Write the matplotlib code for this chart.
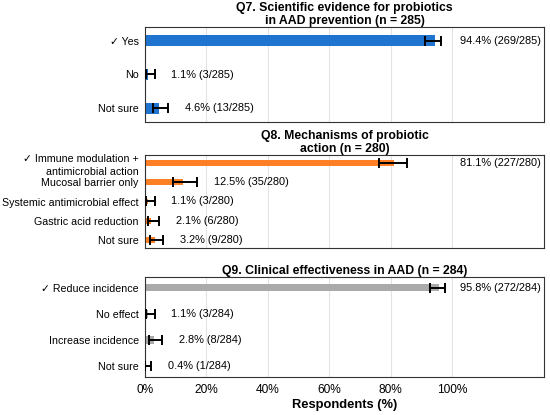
import matplotlib
matplotlib.use("Agg")
import matplotlib.pyplot as plt
from matplotlib.ticker import FuncFormatter

plt.rcParams['font.family'] = ['Liberation Sans', 'DejaVu Sans']

# Q7
q7_labels = ["\u2713 Yes", "No", "Not sure"]
q7_pct = [94.4, 1.1, 4.6]
q7_counts = ["269/285", "3/285", "13/285"]
q7_lo = [91.1, 0.4, 2.7]
q7_hi = [96.5, 3.1, 7.6]

# Q8
q8_labels = ["\u2713 Immune modulation +\nantimicrobial action", "Mucosal barrier only",
             "Systemic antimicrobial effect", "Gastric acid reduction", "Not sure"]
q8_pct = [81.1, 12.5, 1.1, 2.1, 3.2]
q8_counts = ["227/280", "35/280", "3/280", "6/280", "9/280"]
q8_lo = [76.1, 9.1, 0.4, 1.0, 1.7]
q8_hi = [85.3, 16.9, 3.1, 4.6, 6.0]

# Q9
q9_labels = ["\u2713 Reduce incidence", "No effect", "Increase incidence", "Not sure"]
q9_pct = [95.8, 1.1, 2.8, 0.4]
q9_counts = ["272/284", "3/284", "8/284", "1/284"]
q9_lo = [92.8, 0.4, 1.4, 0.1]
q9_hi = [97.6, 3.1, 5.5, 2.0]

panels = [
    ("Q7. Scientific evidence for probiotics\nin AAD prevention (n = 285)",
     q7_labels, q7_pct, q7_counts, q7_lo, q7_hi, "#1f74d0"),
    ("Q8. Mechanisms of probiotic\naction (n = 280)",
     q8_labels, q8_pct, q8_counts, q8_lo, q8_hi, "#ff7f24"),
    ("Q9. Clinical effectiveness in AAD (n = 284)",
     q9_labels, q9_pct, q9_counts, q9_lo, q9_hi, "#aaaaaa"),
]

fig = plt.figure(figsize=(5.5, 4.15), dpi=100)
tops = [27, 155, 277]
bottoms = [122, 248, 377]
W, H = 550.0, 415.0

for i, ((title, labels, pct, counts, lo, hi, color), t, b) in enumerate(zip(panels, tops, bottoms)):
    ax = fig.add_axes([145 / W, 1 - b / H, (544 - 145) / W, (b - t) / H])
    y = list(range(len(labels)))
    xerr = [[p - l for p, l in zip(pct, lo)], [h - p for p, h in zip(pct, hi)]]
    ax.barh(y, pct, height=0.3, color=color, zorder=2)
    ax.errorbar(pct, y, xerr=xerr, fmt="none", ecolor="black", elinewidth=1.4,
                capsize=3.5, capthick=1.4, zorder=3)
    for yi, p, c, h in zip(y, pct, counts, hi):
        txt = f"{p:.1f}% ({c})"
        if p > 50:
            ax.text(129, yi, txt, va="center", ha="right", fontsize=7.9)
        else:
            ax.text(h + 5.5, yi, txt, va="center", ha="left", fontsize=7.9)
    ax.set_yticks(y)
    ax.set_yticklabels(labels, fontsize=7.7, linespacing=1.35)
    ax.set_ylim(len(labels) - 0.6, -0.4)
    ax.set_xlim(0, 130)
    ax.set_xticks([0, 20, 40, 60, 80, 100])
    ax.xaxis.grid(True, color="#e3e3e3", linewidth=0.8, zorder=0)
    ax.set_axisbelow(True)
    ax.tick_params(axis="y", length=0, pad=4.5)
    ax.tick_params(axis="x", length=0)
    ax.set_title(title, fontsize=8.8, fontweight="bold", pad=2.5, linespacing=1.1)
    for s in ax.spines.values():
        s.set_color("#333333")
        s.set_linewidth(0.8)
    if i < 2:
        ax.set_xticklabels([])
    else:
        ax.xaxis.set_major_formatter(FuncFormatter(lambda v, _: f"{v:.0f}%"))
        ax.tick_params(axis="x", labelsize=8.6, pad=5)
        ax.set_xlabel("Respondents (%)", fontsize=9.3, fontweight="bold", labelpad=2)

fig.savefig("out.png", dpi=100)
